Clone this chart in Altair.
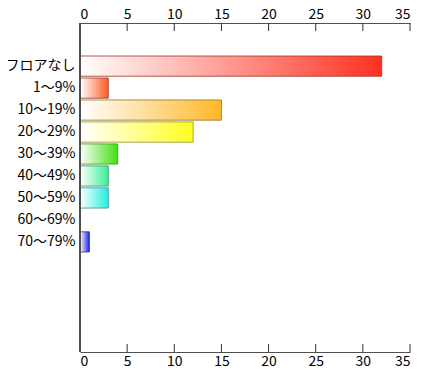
import altair as alt
import pandas as pd

categories = ["フロアなし", "1～9%", "10～19%", "20～29%", "30～39%", "40～49%", "50～59%", "60～69%", "70～79%"]
values = [32, 3, 15, 12, 4, 3, 3, 0, 1]
end_colors = ["#ff3020", "#ff5a28", "#ffb828", "#ffff20", "#40e010", "#38f098", "#20f0e0", "#ffffff", "#2020e8"]
edge_colors = ["#a03020", "#904030", "#907030", "#909030", "#409020", "#409070", "#409090", "#909090", "#303090"]
tick_values = [0, 5, 10, 15, 20, 25, 30, 35]

df = pd.DataFrame({"cat": categories, "val": values})
ticks_df = pd.DataFrame({"t": tick_values})

FONT = "Noto Sans CJK JP"
xscale = alt.Scale(domain=[0, 35], nice=False, zero=True)
yscale = alt.Scale(domain=categories, paddingInner=0.08, paddingOuter=0, range=[33, 229])

y_enc = alt.Y("cat:N", scale=yscale, sort=categories,
              axis=alt.Axis(title=None, ticks=False, labelFont=FONT, labelFontSize=14,
                            labelColor="#000000", labelPadding=5, domain=False, grid=False,
                            labelLimit=200))

layers = []
for cat, v, c, e in zip(categories, values, end_colors, edge_colors):
    if v <= 0:
        continue
    grad = alt.LinearGradient(
        gradient="linear", x1=0, x2=1, y1=0, y2=0,
        stops=[alt.GradientStop(color="#ffffff", offset=0), alt.GradientStop(color=c, offset=1)],
    )
    layers.append(
        alt.Chart(df).transform_filter(alt.datum.cat == cat)
        .mark_bar(fill=grad, stroke=e, strokeWidth=1, strokeOpacity=0.8)
        .encode(
            x=alt.X("val:Q", scale=xscale, axis=None),
            y=y_enc,
        )
    )

top_ticks = alt.Chart(ticks_df).mark_rule(color="#303030").encode(
    x=alt.X("t:Q", scale=xscale,
            axis=alt.Axis(orient="top", title=None, values=tick_values, ticks=False,
                          grid=False, labelFont=FONT, labelFontSize=14, labelPadding=5,
                          labelBaseline="alphabetic",
                          labelColor="#000000", domainColor="#505050")),
    y=alt.value(0), y2=alt.value(8),
)
bottom_ticks = alt.Chart(ticks_df).mark_rule(color="#303030").encode(
    x=alt.X("t:Q", scale=xscale,
            axis=alt.Axis(orient="bottom", title=None, values=tick_values, ticks=False,
                          grid=False, labelFont=FONT, labelFontSize=14, labelPadding=2,
                          labelColor="#000000", domainColor="#505050")),
    y=alt.value(321), y2=alt.value(329),
)
left_line = alt.Chart(ticks_df).mark_rule(color="#505050").encode(
    x=alt.value(0), y=alt.value(0), y2=alt.value(329),
)

chart = alt.layer(*layers, top_ticks, bottom_ticks, left_line).resolve_axis(
    x="independent"
).resolve_scale(x="shared").properties(
    width=330, height=329,
    background="#ffffff",
    view=alt.ViewBackground(stroke="transparent", strokeWidth=0),
    autosize=alt.AutoSizeParams(type="none"),
    padding={"left": 72, "top": 15, "right": 4, "bottom": 14},
).configure_view(strokeWidth=0, stroke="transparent")

chart.save("out.html", embed_options={"renderer": "svg", "actions": False})
